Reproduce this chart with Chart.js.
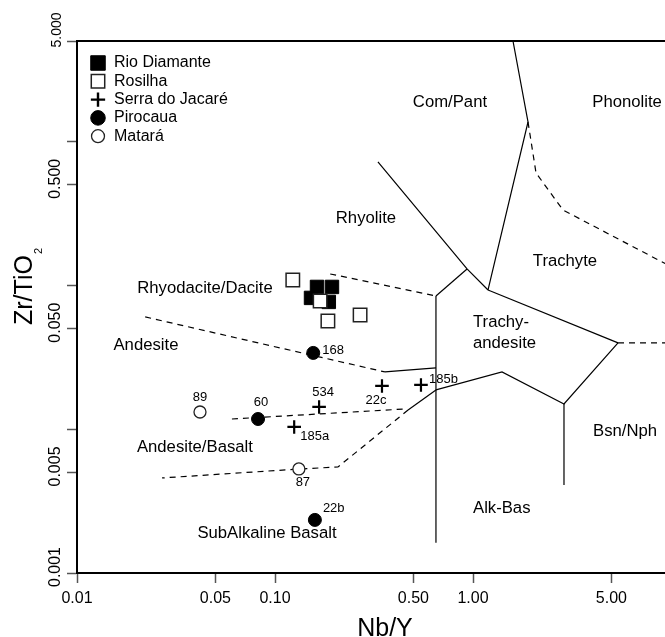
<!DOCTYPE html>
<html><head><meta charset="utf-8">
<script src="https://cdn.jsdelivr.net/npm/chart.js@4.4.0/dist/chart.umd.min.js"></script>
<style>
html,body{margin:0;padding:0;background:#fff;overflow:hidden;}
#wrap{width:665px;height:637px;overflow:hidden;position:relative;background:#fff;}
canvas{display:block;}
</style></head><body>
<div id="wrap"><canvas id="c" width="671" height="637"></canvas></div>
<script>
const FONT = '"Liberation Sans", Arial, Helvetica, sans-serif';

// ---------- data ----------
const seriesNames = ['Rio Diamante', 'Rosilha', 'Serra do Jacaré', 'Pirocaua', 'Matará'];

const rioDiamanteNbY   = [0.163, 0.194, 0.152, 0.187];
const rioDiamanteZrTiO2 = [0.0975, 0.0975, 0.0818, 0.0767];

const rosilhaNbY   = [0.123, 0.169, 0.185, 0.269];
const rosilhaZrTiO2 = [0.109, 0.0779, 0.0565, 0.0623];

const serraNbY   = [0.167, 0.125, 0.347, 0.546];
const serraZrTiO2 = [0.01427, 0.01036, 0.01997, 0.0203];
const serraSamples = ['534', '185a', '22c', '185b'];

const pirocauaNbY   = [0.156, 0.0821, 0.159];
const pirocauaZrTiO2 = [0.0339, 0.01177, 0.00234];
const pirocauaSamples = ['168', '60', '22b'];

const mataraNbY   = [0.0418, 0.132];
const mataraZrTiO2 = [0.01317, 0.00529];
const mataraSamples = ['89', '87'];

const xTickValues = [0.01, 0.05, 0.1, 0.5, 1, 5];
const xTickLabels = ['0.01', '0.05', '0.10', '0.50', '1.00', '5.00'];
const yTickValues = [0.001, 0.005, 0.01, 0.05, 0.1, 0.5, 1, 5];
const yTickLabels = ['0.001', '0.005', '', '0.050', '', '0.500', '', '5.000'];

// field boundaries (Nb/Y, Zr/TiO2)
const solidBoundaries = [
  [[0.331, 0.721], [0.933, 0.130], [1.191, 0.0929]],
  [[0.933, 0.130], [0.650, 0.0844]],
  [[1.592, 5.0], [1.896, 1.369], [1.191, 0.0929]],
  [[1.191, 0.0929], [5.40, 0.0398]],
  [[0.650, 0.0844], [0.650, 0.00162]],
  [[0.359, 0.0250], [0.650, 0.0267]],
  [[0.650, 0.01874], [1.401, 0.02499], [2.881, 0.01496], [5.40, 0.0398]],
  [[2.881, 0.01496], [2.881, 0.00409]],
  [[0.650, 0.01874], [0.470, 0.0136]]
];
const dashedBoundaries = [
  [[5.40, 0.0398], [10, 0.0398]],
  [[1.896, 1.369], [2.081, 0.605], [2.848, 0.334], [10, 0.135]],
  [[0.190, 0.120], [0.650, 0.0844]],
  [[0.0221, 0.0603], [0.359, 0.0250]],
  [[0.0606, 0.01177], [0.4535, 0.01382]],
  [[0.470, 0.0136], [0.208, 0.00546], [0.134, 0.00529], [0.0269, 0.00458]]
];

const regionNames = ['Com/Pant', 'Phonolite', 'Rhyolite', 'Trachyte', 'Rhyodacite/Dacite', 'Andesite',
  'Trachy-', 'andesite', 'Andesite/Basalt', 'Bsn/Nph', 'Alk-Bas', 'SubAlkaline Basalt'];

// ---------- layout (positions of annotation text) ----------
const regionAnchors = [
  [0.765, 1.886, 'center'], [6.0, 1.886, 'center'], [0.288, 0.294, 'center'], [2.914, 0.1478, 'center'],
  [0.0443, 0.0959, 'center'], [0.0223, 0.0385, 'center'], [1.0, 0.0557, 'left'], [1.0, 0.0398, 'left'],
  [0.0394, 0.00752, 'center'], [5.858, 0.00972, 'center'], [1.0, 0.00283, 'left'], [0.0911, 0.0019, 'center']
];
const sampleLabelOffsets = {
  '534': [4, -15, 'center'], '185a': [6, 9, 'left'], '22c': [-6, 14, 'center'], '185b': [8, -6, 'left'],
  '168': [9, -2, 'left'], '60': [3, -17, 'center'], '22b': [8, -11, 'left'],
  '89': [0, -15, 'center'], '87': [4, 13, 'center']
};

function pts(xs, ys) { return xs.map((x, i) => ({ x: x, y: ys[i] })); }
function seg(list) { return list.map(p => ({ x: p[0], y: p[1] })); }

const markerStyles = [
  { kind: 'rect', fill: '#000', stroke: '#000', r: 9.5, lw: 1 },
  { kind: 'rect', fill: '#fff', stroke: '#222', r: 9.5, lw: 1.5 },
  { kind: 'cross', fill: '#000', stroke: '#000', r: 6.8, lw: 2.2 },
  { kind: 'circle', fill: '#000', stroke: '#000', r: 6.5, lw: 1 },
  { kind: 'circle', fill: '#fff', stroke: '#222', r: 6, lw: 1.3 }
];
const legendScale = [1.08, 1.0, 1.05, 1.12, 1.08];
const markerData = [
  pts(rioDiamanteNbY, rioDiamanteZrTiO2),
  pts(rosilhaNbY, rosilhaZrTiO2),
  pts(serraNbY, serraZrTiO2),
  pts(pirocauaNbY, pirocauaZrTiO2),
  pts(mataraNbY, mataraZrTiO2)
];
const markerSamples = [null, null, serraSamples, pirocauaSamples, mataraSamples];

const datasets = [];
solidBoundaries.forEach(s => datasets.push({
  data: seg(s), showLine: true, pointRadius: 0, borderColor: '#000', borderWidth: 1.2,
  fill: false, order: 20
}));
dashedBoundaries.forEach(s => datasets.push({
  data: seg(s), showLine: true, pointRadius: 0, borderColor: '#000', borderWidth: 1.2,
  borderDash: [6, 5], fill: false, order: 20
}));
const markerStart = datasets.length;
markerData.forEach((d, i) => {
  const st = markerStyles[i];
  datasets.push({
    label: seriesNames[i], data: d, showLine: false,
    pointStyle: st.kind,
    pointRadius: st.r, pointHoverRadius: st.r,
    pointBackgroundColor: st.fill, pointBorderColor: st.stroke, pointBorderWidth: st.lw,
    order: 10 - i
  });
});

function drawMarker(ctx, st, x, y, k) {
  const r = st.r * k;
  ctx.save();
  ctx.lineWidth = st.lw; ctx.strokeStyle = st.stroke; ctx.fillStyle = st.fill;
  if (st.kind === 'rect') {
    const h = r * Math.SQRT1_2;
    ctx.beginPath(); ctx.rect(x - h, y - h, 2 * h, 2 * h); ctx.fill(); ctx.stroke();
  } else if (st.kind === 'circle') {
    ctx.beginPath(); ctx.arc(x, y, r, 0, Math.PI * 2); ctx.fill(); ctx.stroke();
  } else {
    ctx.lineWidth = st.lw * 1.1;
    ctx.beginPath(); ctx.moveTo(x - r, y); ctx.lineTo(x + r, y);
    ctx.moveTo(x, y - r); ctx.lineTo(x, y + r); ctx.stroke();
  }
  ctx.restore();
}

const decor = {
  id: 'decor',
  afterDraw(chart) {
    const ctx = chart.ctx, a = chart.chartArea;
    const xs = chart.scales.x, ys = chart.scales.y;
    ctx.save();
    // top frame line
    ctx.strokeStyle = '#000'; ctx.lineWidth = 2;
    ctx.beginPath(); ctx.moveTo(a.left - 1, a.top); ctx.lineTo(a.right, a.top); ctx.stroke();

    // y tick labels (rotated)
    ctx.fillStyle = '#000';
    ctx.textAlign = 'center'; ctx.textBaseline = 'middle';
    yTickValues.forEach((v, i) => {
      if (!yTickLabels[i]) return;
      const top = v === yTickValues[yTickValues.length - 1];
      ctx.font = (top ? '14px ' : '16px ') + FONT;
      const py = ys.getPixelForValue(v) - (top ? 11 : 6);
      ctx.save(); ctx.translate(top ? 57 : 56, py); ctx.rotate(-Math.PI / 2);
      ctx.fillText(yTickLabels[i], 0, 0); ctx.restore();
    });

    // axis titles
    ctx.font = '25px ' + FONT;
    ctx.textAlign = 'center'; ctx.textBaseline = 'alphabetic';
    ctx.fillText('Nb/Y', 385, 636);
    ctx.save();
    ctx.translate(32, 325); ctx.rotate(-Math.PI / 2);
    ctx.textAlign = 'left';
    ctx.fillText('Zr/TiO', 0, 0);
    const w = ctx.measureText('Zr/TiO').width;
    ctx.font = '11px ' + FONT;
    ctx.fillText('2', w + 1, 10);
    ctx.restore();

    // region labels
    ctx.font = '16.7px ' + FONT;
    ctx.textBaseline = 'middle';
    regionNames.forEach((t, i) => {
      const an = regionAnchors[i];
      ctx.textAlign = an[2];
      ctx.fillText(t, xs.getPixelForValue(an[0]), ys.getPixelForValue(an[1]));
    });

    // sample labels
    ctx.font = '13px ' + FONT;
    markerSamples.forEach((names, k) => {
      if (!names) return;
      const meta = chart.getDatasetMeta(markerStart + k);
      names.forEach((n, j) => {
        const el = meta.data[j]; const o = sampleLabelOffsets[n];
        ctx.textAlign = o[2];
        ctx.fillText(n, el.x + o[0], el.y + o[1]);
      });
    });

    // legend
    ctx.font = '16px ' + FONT;
    ctx.textAlign = 'left'; ctx.textBaseline = 'middle';
    seriesNames.forEach((n, i) => {
      const y = 63 + i * 18.3;
      drawMarker(ctx, markerStyles[i], 98, y, legendScale[i]);
      ctx.fillStyle = '#000';
      ctx.fillText(n, 114, y);
    });
    ctx.restore();
  }
};

new Chart(document.getElementById('c'), {
  type: 'scatter',
  data: { datasets: datasets },
  options: {
    responsive: false, animation: false, devicePixelRatio: 1, events: [],
    layout: { autoPadding: false, padding: { top: 41, left: 0, right: 0, bottom: 0 } },
    plugins: { legend: { display: false }, tooltip: { enabled: false } },
    scales: {
      x: {
        type: 'logarithmic', position: 'bottom', min: 0.01, max: 10,
        afterBuildTicks: s => { s.ticks = xTickValues.map(v => ({ value: v })); },
        afterFit: s => { s.height = 64; s.paddingLeft = 0; s.paddingRight = 0; },
        grid: { drawOnChartArea: false, drawTicks: true, tickLength: 10, tickColor: '#555', tickWidth: 1.5 },
        border: { display: true, color: '#000', width: 2 },
        ticks: {
          autoSkip: false, maxRotation: 0, minRotation: 0, padding: 6, color: '#000',
          font: { family: FONT, size: 16 },
          callback: (v, i) => xTickLabels[i]
        }
      },
      y: {
        type: 'logarithmic', position: 'left', min: 0.001, max: 5,
        afterBuildTicks: s => { s.ticks = yTickValues.map(v => ({ value: v })); },
        afterFit: s => { s.width = 77; s.paddingTop = 0; s.paddingBottom = 0; },
        grid: { drawOnChartArea: false, drawTicks: true, tickLength: 10, tickColor: '#555', tickWidth: 1.5 },
        border: { display: true, color: '#000', width: 2 },
        ticks: { display: false }
      }
    }
  },
  plugins: [decor]
});
</script>
</body></html>
